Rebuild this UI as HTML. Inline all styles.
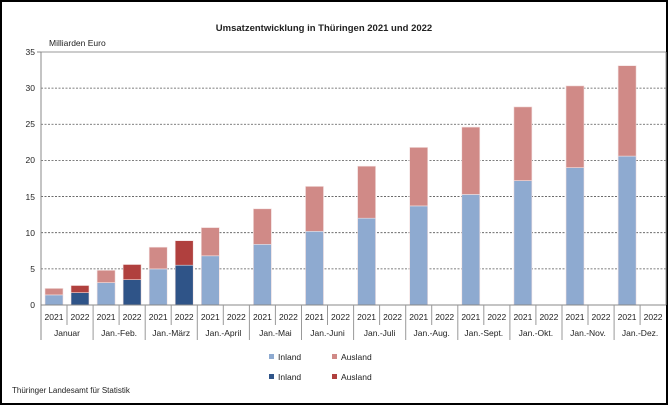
<!DOCTYPE html>
<html><head><meta charset="utf-8"><style>
html,body{margin:0;padding:0;background:#fff}
svg{display:block}
text{font-family:"Liberation Sans",sans-serif;fill:#222}
</style></head><body>
<svg width="668" height="405" viewBox="0 0 668 405" xmlns="http://www.w3.org/2000/svg">
<rect x="1" y="1" width="666" height="403" fill="#fff" stroke="#000" stroke-width="2"/>
<text x="324" y="31" font-size="9.5" font-weight="bold" text-anchor="middle">Umsatzentwicklung in Thüringen 2021 und 2022</text>
<text x="49" y="46" font-size="8.5">Milliarden Euro</text>
<g stroke="#555" stroke-width="0.8" stroke-dasharray="2,1.5">
<line x1="41" x2="666" y1="268.85" y2="268.85"/><line x1="41" x2="666" y1="232.7" y2="232.7"/>
<line x1="41" x2="666" y1="196.55" y2="196.55"/><line x1="41" x2="666" y1="160.4" y2="160.4"/>
<line x1="41" x2="666" y1="124.25" y2="124.25"/><line x1="41" x2="666" y1="88.1" y2="88.1"/>
</g>
<line x1="41" x2="666" y1="52" y2="52" stroke="#999"/>
<line x1="666" x2="666" y1="52" y2="305" stroke="#999"/>
<g font-size="8.5" text-anchor="end">
<text x="35" y="308">0</text><text x="35" y="272">5</text><text x="35" y="236">10</text><text x="35" y="200">15</text>
<text x="35" y="163">20</text><text x="35" y="127">25</text><text x="35" y="91">30</text><text x="35" y="55">35</text>
</g>
<g stroke="#f3e0e0" stroke-width="0.6">
<g fill="#8eaad0">
<rect x="45" y="294.9" width="18" height="10.1"/><rect x="97.1" y="282.6" width="18" height="22.4"/>
<rect x="149.2" y="268.9" width="18" height="36.1"/><rect x="201.3" y="255.8" width="18" height="49.2"/>
<rect x="253.4" y="244.3" width="18" height="60.7"/><rect x="305.5" y="231.3" width="18" height="73.7"/>
<rect x="357.6" y="218.2" width="18" height="86.8"/><rect x="409.7" y="205.9" width="18" height="99.1"/>
<rect x="461.8" y="194.4" width="18" height="110.6"/><rect x="513.9" y="180.6" width="18" height="124.4"/>
<rect x="566" y="167.6" width="18" height="137.4"/><rect x="618.1" y="156.1" width="18" height="148.9"/>
</g>
<g fill="#d08a87">
<rect x="45" y="288.4" width="18" height="6.5"/><rect x="97.1" y="270.3" width="18" height="12.3"/>
<rect x="149.2" y="247.2" width="18" height="21.7"/><rect x="201.3" y="227.6" width="18" height="28.2"/>
<rect x="253.4" y="208.8" width="18" height="35.5"/><rect x="305.5" y="186.4" width="18" height="44.9"/>
<rect x="357.6" y="166.2" width="18" height="52"/><rect x="409.7" y="147.4" width="18" height="58.5"/>
<rect x="461.8" y="127.1" width="18" height="67.3"/><rect x="513.9" y="106.9" width="18" height="73.7"/>
<rect x="566" y="85.9" width="18" height="81.7"/><rect x="618.1" y="65.7" width="18" height="90.4"/>
</g>
<g fill="#2f5488">
<rect x="71" y="292.7" width="18" height="12.3"/><rect x="123.1" y="279.7" width="18" height="25.3"/>
<rect x="175.2" y="265.2" width="18" height="39.8"/>
</g>
<g fill="#b0403e">
<rect x="71" y="285.5" width="18" height="7.2"/><rect x="123.1" y="264.5" width="18" height="15.2"/>
<rect x="175.2" y="240.7" width="18" height="24.5"/>
</g>
</g>
<line x1="41" x2="41" y1="52" y2="340" stroke="#888"/>
<line x1="37" x2="41" y1="52" y2="52" stroke="#888"/>
<line x1="41" x2="666" y1="305" y2="305" stroke="#888"/>
<g stroke="#999">
<line x1="67" x2="67" y1="305" y2="325"/><line x1="119.1" x2="119.1" y1="305" y2="325"/>
<line x1="171.2" x2="171.2" y1="305" y2="325"/><line x1="223.3" x2="223.3" y1="305" y2="325"/>
<line x1="275.4" x2="275.4" y1="305" y2="325"/><line x1="327.5" x2="327.5" y1="305" y2="325"/>
<line x1="379.6" x2="379.6" y1="305" y2="325"/><line x1="431.7" x2="431.7" y1="305" y2="325"/>
<line x1="483.8" x2="483.8" y1="305" y2="325"/><line x1="535.9" x2="535.9" y1="305" y2="325"/>
<line x1="588" x2="588" y1="305" y2="325"/><line x1="640.1" x2="640.1" y1="305" y2="325"/>
<line x1="93.1" x2="93.1" y1="305" y2="340"/><line x1="145.2" x2="145.2" y1="305" y2="340"/>
<line x1="197.3" x2="197.3" y1="305" y2="340"/><line x1="249.4" x2="249.4" y1="305" y2="340"/>
<line x1="301.5" x2="301.5" y1="305" y2="340"/><line x1="353.6" x2="353.6" y1="305" y2="340"/>
<line x1="405.7" x2="405.7" y1="305" y2="340"/><line x1="457.8" x2="457.8" y1="305" y2="340"/>
<line x1="509.9" x2="509.9" y1="305" y2="340"/><line x1="562" x2="562" y1="305" y2="340"/>
<line x1="614.1" x2="614.1" y1="305" y2="340"/>
</g>
<g font-size="8.5" text-anchor="middle">
<text x="54" y="320">2021</text><text x="80" y="320">2022</text>
<text x="106.1" y="320">2021</text><text x="132.1" y="320">2022</text>
<text x="158.2" y="320">2021</text><text x="184.2" y="320">2022</text>
<text x="210.3" y="320">2021</text><text x="236.3" y="320">2022</text>
<text x="262.4" y="320">2021</text><text x="288.4" y="320">2022</text>
<text x="314.5" y="320">2021</text><text x="340.5" y="320">2022</text>
<text x="366.6" y="320">2021</text><text x="392.6" y="320">2022</text>
<text x="418.7" y="320">2021</text><text x="444.7" y="320">2022</text>
<text x="470.8" y="320">2021</text><text x="496.8" y="320">2022</text>
<text x="522.9" y="320">2021</text><text x="548.9" y="320">2022</text>
<text x="575" y="320">2021</text><text x="601" y="320">2022</text>
<text x="627.1" y="320">2021</text><text x="653.1" y="320">2022</text>
</g>
<g font-size="8.5" text-anchor="middle">
<text x="67" y="336">Januar</text><text x="119.1" y="336">Jan.-Feb.</text>
<text x="171.2" y="336">Jan.-März</text><text x="223.3" y="336">Jan.-April</text>
<text x="275.4" y="336">Jan.-Mai</text><text x="327.5" y="336">Jan.-Juni</text>
<text x="379.6" y="336">Jan.-Juli</text><text x="431.7" y="336">Jan.-Aug.</text>
<text x="483.8" y="336">Jan.-Sept.</text><text x="535.9" y="336">Jan.-Okt.</text>
<text x="588" y="336">Jan.-Nov.</text><text x="640.1" y="336">Jan.-Dez.</text>
</g>
<rect x="269" y="354" width="5" height="5" fill="#8eaad0"/><text x="278" y="360" font-size="8.5">Inland</text>
<rect x="332" y="354" width="5" height="5" fill="#d08a87"/><text x="341" y="360" font-size="8.5">Ausland</text>
<rect x="269" y="374" width="5" height="5" fill="#2f5488"/><text x="278" y="380" font-size="8.5">Inland</text>
<rect x="332" y="374" width="5" height="5" fill="#b0403e"/><text x="341" y="380" font-size="8.5">Ausland</text>
<text x="12" y="393" font-size="8">Thüringer Landesamt für Statistik</text>
</svg>
</body></html>
